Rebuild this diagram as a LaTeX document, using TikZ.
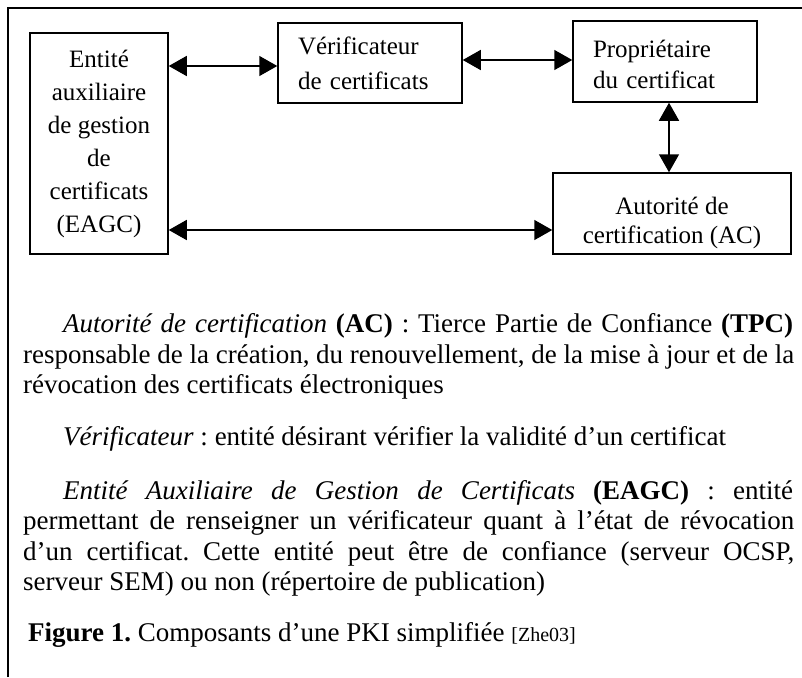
\documentclass[tikz,border=0pt]{standalone}
\usepackage{fontspec}
\setmainfont{Liberation Serif}
\usetikzlibrary{arrows.meta}
\newcommand{\diagfont}{\fontsize{25}{31}\selectfont}
\newcommand{\bodyfont}{\fontsize{27}{31}\selectfont\frenchspacing}
\tikzset{
  box/.style={draw, line width=1.5pt, inner sep=0pt, font=\diagfont},
  arr/.style={line width=1.5pt, {Triangle[length=18pt,width=20pt]}-{Triangle[length=18pt,width=20pt]}},
  frame/.style={line width=2.5pt},
  line/.style={anchor=base west, inner sep=0pt, font=\bodyfont}
}
\begin{document}
\begin{tikzpicture}[x=1pt,y=-1pt]
\useasboundingbox (0,0) rectangle (802,677);
\coordinate (fbl) at (8,677);
\coordinate (ftl) at (8,8);
\coordinate (ftr) at (802,8);
\draw[frame] (fbl) -- (ftl) -- (ftr);

\node[box, minimum width=138pt, minimum height=221pt, align=center, font=\fontsize{25}{33}\selectfont] (eagc) at (99,143.5)
  {Entité\\auxiliaire\\de gestion\\de\\certificats\\(EAGC)};
\node[box, minimum width=184pt, minimum height=80pt, text width=144pt, align=left, font=\fontsize{25}{35}\selectfont] (ver) at (370,63)
  {Vérificateur\\de certificats};
\node[box, minimum width=184pt, minimum height=81pt] (prop) at (665,61.5) {};
\node[inner sep=0pt, text width=144pt, align=left, font=\fontsize{25}{31}\selectfont] (proptext) at ([yshift=-3pt]prop.center)
  {Propriétaire\\du certificat};
\node[box, minimum width=238pt, minimum height=81pt] (ac) at (672,213.5) {};
\node[inner sep=0pt, align=center, font=\fontsize{25}{29}\selectfont] (actext) at ([yshift=-9pt]ac.center)
  {Autorité de\\certification (AC)};

\draw[arr] (eagc.east |- 0,66) -- (ver.west |- 0,66);
\draw[arr] (ver.east |- 0,60) -- (prop.west |- 0,60);
\draw[arr] (prop.south -| 669,0) -- (ac.north -| 669,0);
\draw[arr] (eagc.east |- 0,230) -- (ac.west |- 0,230);

\node[line] (t1) at (63,332) {\makebox[730pt][s]{\textit{Autorité de certification} \textbf{(AC)} : Tierce Partie de Confiance \textbf{(TPC)}}};
\node[line] (t2) at (23,363) {\makebox[771pt][s]{responsable de la création, du renouvellement, de la mise à jour et de la}};
\node[line] (t3) at (23,393) {révocation des certificats électroniques};
\node[line] (t4) at (63,445) {\textit{Vérificateur} : entité désirant vérifier la validité d’un certificat};
\node[line] (t5) at (63,499) {\makebox[730pt][s]{\textit{Entité Auxiliaire de Gestion de Certificats} \textbf{(EAGC)} : entité}};
\node[line] (t6) at (23,529) {\makebox[771pt][s]{permettant de renseigner un vérificateur quant à l’état de révocation}};
\node[line] (t7) at (23,560) {\makebox[771pt][s]{d’un certificat. Cette entité peut être de confiance (serveur OCSP,}};
\node[line] (t8) at (23,590) {serveur SEM) ou non (répertoire de publication)};
\node[line] (t9) at (28,641) {\textbf{Figure 1.} Composants d’une PKI simplifiée {\fontsize{20}{24}\selectfont [Zhe03]}};
\end{tikzpicture}
\end{document}
